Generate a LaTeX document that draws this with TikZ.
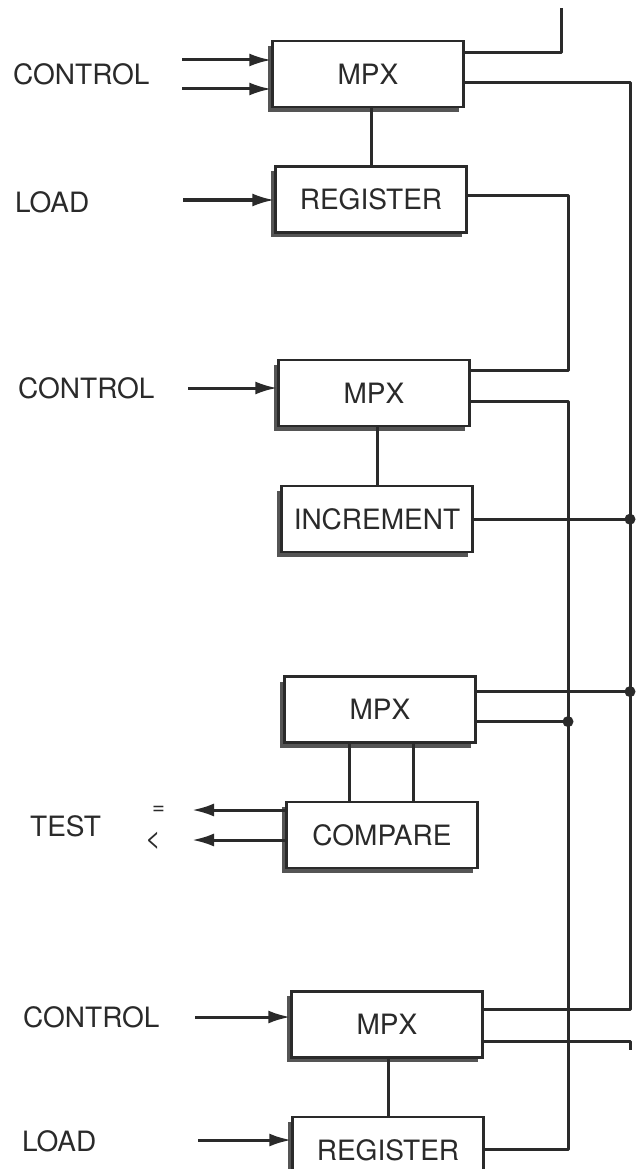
\documentclass[tikz,border=0pt]{standalone}
\usepackage{fontspec}
\setmainfont{TeX Gyre Heros}
\usepackage{xcolor}
\definecolor{InkGrey}{HTML}{2A2A2A}
\definecolor{ShadowGrey}{HTML}{555555}
\usetikzlibrary{
  positioning,
  arrows.meta,
  shadows
}

\begin{document}
\begin{tikzpicture}[
    x=1pt, y=-1pt,
    unit/.style={
      rectangle, draw=InkGrey, line width=2.4pt, fill=white,
      minimum width=191pt, minimum height=66pt, inner sep=0pt,
      font=\fontsize{28}{30}\selectfont, text=InkGrey,
      drop shadow={shadow xshift=-4.5pt, shadow yshift=-5pt, fill=ShadowGrey, opacity=1}
    },
    tag/.style={anchor=west, inner sep=0pt, font=\fontsize{28}{30}\selectfont, text=InkGrey},
    wire/.style={line width=3pt, InkGrey, line join=round},
    sig/.style={wire, -{Latex[length=22pt, width=13pt]}},
    dot/.style={fill=InkGrey}
  ]
    \useasboundingbox (0,0) rectangle (636,1169);

    % blocks
    \node[unit] (mpxA) at (368,74) {MPX};
    \node[unit, below=57pt of mpxA, xshift=3pt] (regA) {REGISTER};
    \node[unit, below=125pt of regA, xshift=3pt] (mpxB) {MPX};
    \node[unit, below=58pt of mpxB, xshift=3pt] (incB) {INCREMENT};
    \node[unit, below=122pt of incB, xshift=3pt] (mpxC) {MPX};
    \node[unit, below=57pt of mpxC, xshift=2pt] (cmpC) {COMPARE};
    \node[unit, below=121pt of cmpC, xshift=5pt] (mpxD) {MPX};
    \node[unit, below=57pt of mpxD, xshift=1pt] (regD) {REGISTER};

    % labels
    \node[tag] (ctlA) at (13,74) {CONTROL};
    \node[tag] (loadA) at (15,202) {LOAD};
    \node[tag] (ctlB) at (18,388) {CONTROL};
    \node[tag] (testC) at (30,826) {TEST};
    \node[tag, font=\fontsize{22}{24}\selectfont] (eqC) at (152,810) {=};
    \node[tag, font=\fontsize{27}{28}\selectfont] (ltC) at (145,841) {<};
    \node[tag] (ctlD) at (23,1017) {CONTROL};
    \node[tag] (loadD) at (22,1141) {LOAD};

    % bus lines and free ends
    \coordinate (busM) at (568,0);
    \coordinate (busR) at (630,0);
    \coordinate (topA) at (561,8);
    \coordinate (endD) at (630,1050);

    % ports
    \coordinate (aOa) at ([yshift=21pt]mpxA.east);
    \coordinate (aOb) at ([yshift=-9pt]mpxA.east);
    \coordinate (rAo) at ([yshift=4pt]regA.east);
    \coordinate (bOa) at ([yshift=22pt]mpxB.east);
    \coordinate (bOb) at ([yshift=-9pt]mpxB.east);
    \coordinate (cOa) at ([yshift=18pt]mpxC.east);
    \coordinate (cOb) at ([yshift=-12pt]mpxC.east);
    \coordinate (dOa) at ([yshift=15pt]mpxD.east);
    \coordinate (dOb) at ([yshift=-17pt]mpxD.east);
    \coordinate (cLa) at ([xshift=-33pt]cmpC.north);
    \coordinate (cLb) at ([xshift=31pt]cmpC.north);

    % inputs
    \coordinate (inA1) at (182,60);
    \coordinate (inA2) at (182,89);
    \coordinate (inR1) at (183,200);
    \coordinate (inB1) at (188,388);
    \coordinate (inD1) at (195,1017);
    \coordinate (inR2) at (198,1140);
    \coordinate (eqT) at (192,810);
    \coordinate (ltT) at (192,840);

    \draw[sig] (inA1) -- (inA1 -| mpxA.west);
    \draw[sig] (inA2) -- (inA2 -| mpxA.west);
    \draw[sig] (inR1) -- (inR1 -| regA.west);
    \draw[sig] (inB1) -- (inB1 -| mpxB.west);
    \draw[sig] (inD1) -- (inD1 -| mpxD.west);
    \draw[sig] (inR2) -- (inR2 -| regD.west);
    \draw[sig] (eqT -| cmpC.west) -- (eqT);
    \draw[sig] (ltT -| cmpC.west) -- (ltT);

    % links between blocks
    \draw[wire] (regA.north |- mpxA.south) -- (regA.north);
    \draw[wire] (incB.north |- mpxB.south) -- (incB.north);
    \draw[wire] (cLa |- mpxC.south) -- (cLa);
    \draw[wire] (cLb |- mpxC.south) -- (cLb);
    \draw[wire] (regD.north |- mpxD.south) -- (regD.north);

    % outputs
    \draw[wire] (aOa) -| (topA);
    \draw[wire] (aOb) -| (busR |- dOa) -- (dOa);
    \draw[wire] (rAo) -| (busM |- bOa) -- (bOa);
    \draw[wire] (bOb) -| (busM |- regD.east) -- (regD.east);
    \draw[wire] (incB.east) -- (incB.east -| busR);
    \draw[wire] (cOa) -- (cOa -| busR);
    \draw[wire] (cOb) -- (cOb -| busM);
    \draw[wire] (dOb) -| (endD);

    \fill[dot] (incB.east -| busR) circle (5.5pt);
    \fill[dot] (cOa -| busR) circle (5.5pt);
    \fill[dot] (cOb -| busM) circle (5.5pt);
\end{tikzpicture}
\end{document}
